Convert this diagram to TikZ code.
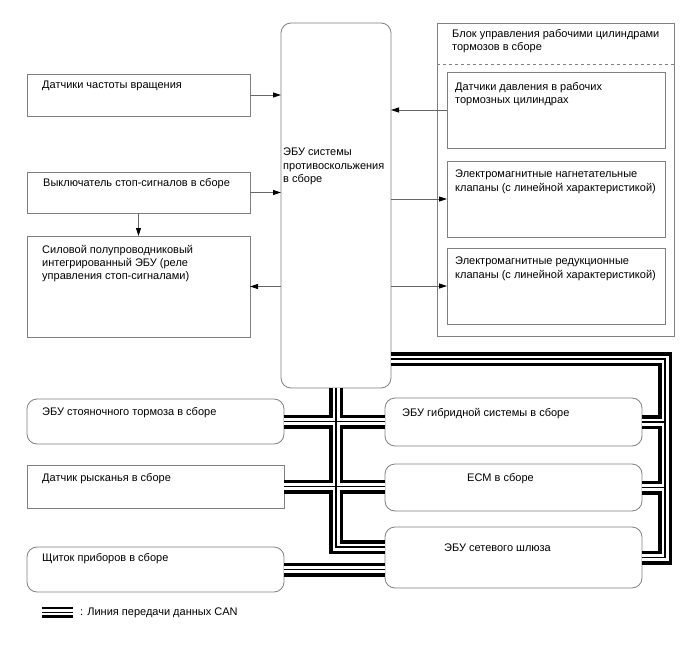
\documentclass[tikz,border=0pt]{standalone}
\usepackage{fontspec}
\setmainfont{Liberation Sans}
\usetikzlibrary{arrows.meta,positioning,calc}

\tikzset{
  box/.style={draw=black!50, line width=0.8pt, inner sep=0pt, outer sep=0pt, anchor=north west},
  rbox/.style={box, rounded corners=10pt},
  lbl/.style={anchor=north west, align=left, inner sep=0pt},
  sig/.style={draw=black!60, line width=0.8pt, -{Triangle[length=8pt,width=5pt,color=black]}},
}

\begin{document}
\begin{tikzpicture}[x=1pt,y=-1pt,font=\fontsize{11}{13.3}\selectfont]
\useasboundingbox (0,0) rectangle (688,658);

% boxes
\node[box, minimum width=223, minimum height=42] (wss) at (27,74) {};
\node[box, minimum width=223, minimum height=41] (stopsw) at (27,172) {};
\node[box, minimum width=223, minimum height=101] (ipd) at (27,236) {};
\node[rbox, minimum width=110, minimum height=365] (skid) at (281,23) {};
\node[box, minimum width=237, minimum height=313] (act) at (437,23) {};
\node[box, minimum width=218, minimum height=76] (wcps) at (447,72) {};
\node[box, minimum width=218, minimum height=76] (incv) at (447,161) {};
\node[box, minimum width=218, minimum height=76] (redv) at (447,248) {};
\node[rbox, minimum width=257, minimum height=45] (epb) at (27,399) {};
\node[box, minimum width=257, minimum height=43] (yaw) at (27,465) {};
\node[rbox, minimum width=257, minimum height=45] (meter) at (27,547) {};
\node[rbox, minimum width=257, minimum height=48] (hv) at (385,398) {};
\node[rbox, minimum width=257, minimum height=47] (ecm) at (385,464) {};
\node[rbox, minimum width=257, minimum height=61] (gw) at (385,527) {};
\draw[black!50, line width=0.8pt, dash pattern=on 3pt off 3pt]
  ([yshift=-41pt]act.north west) -- ([yshift=-41pt]act.north east);

% texts
\node[lbl] (wsst) at (42,81) {Датчики частоты вращения};
\node[lbl] (stopswt) at (43,178) {Выключатель стоп-сигналов в сборе};
\node[lbl] (ipdt) at (42,245) {Силовой полупроводниковый\\интегрированный ЭБУ (реле\\управления стоп-сигналами)};
\node[lbl] (skidt) at (283,148) {ЭБУ системы\\противоскольжения\\в сборе};
\node[lbl] (actt) at (452,29) {Блок управления рабочими цилиндрами\\тормозов в сборе};
\node[lbl] (wcpst) at (455,82) {Датчики давления в рабочих\\тормозных цилиндрах};
\node[lbl] (incvt) at (455,170) {Электромагнитные нагнетательные\\клапаны (с линейной характеристикой)};
\node[lbl] (redvt) at (455,257) {Электромагнитные редукционные\\клапаны (с линейной характеристикой)};
\node[lbl] (epbt) at (42,407) {ЭБУ стояночного тормоза в сборе};
\node[lbl] (yawt) at (42,473) {Датчик рысканья в сборе};
\node[lbl] (metert) at (42,553) {Щиток приборов в сборе};
\node[lbl] (hvt) at (402,408) {ЭБУ гибридной системы в сборе};
\node[lbl] (ecmt) at (467,473) {ECM в сборе};
\node[lbl] (gwt) at (444,544) {ЭБУ сетевого шлюза};

% signals
\draw[sig] (wss.east) -- (wss.east -| skid.west);
\draw[sig] (stopsw.east) -- (stopsw.east -| skid.west);
\draw[sig] (stopsw.south) -- (ipd.north);
\draw[sig] (ipd.east -| skid.west) -- (ipd.east);
\draw[sig] (wcps.west) -- (wcps.west -| skid.east);
\draw[sig] (incv.west -| skid.east) -- (incv.west);
\draw[sig] (redv.west -| skid.east) -- (redv.west);

% CAN
\coordinate (canR) at (665,359);
\coordinate (lg1) at (42,612);
\coordinate (lg2) at (73,612);
\foreach \lw/\lc in {14pt/black, 7pt/white, 1.2pt/black}{
  \draw[line width=\lw, \lc] (skid.south) |- ([yshift=10.5pt]gw.west);
  \draw[line width=\lw, \lc] (epb.east) -- (epb.east -| hv.west);
  \draw[line width=\lw, \lc] (yaw.east) -- (yaw.east -| ecm.west);
  \draw[line width=\lw, \lc] (meter.east) -- (meter.east -| gw.west);
  \draw[line width=\lw, \lc] ([yshift=29pt]skid.south east) -- (canR) |- (gw.east);
  \draw[line width=\lw, \lc] (hv.east) -- (hv.east -| canR);
  \draw[line width=\lw, \lc] (ecm.east) -- (ecm.east -| canR);
}
\foreach \lw/\lc in {11pt/black, 6pt/white, 1pt/black}{
  \draw[line width=\lw, \lc] (lg1) -- (lg2);
}
\node[lbl] (lgt) at (80,608) {: Линия передачи данных CAN};
\end{tikzpicture}
\end{document}
